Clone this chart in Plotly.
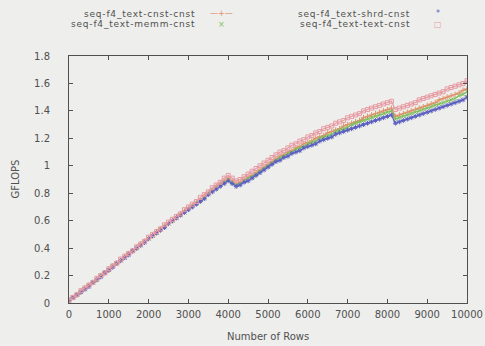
import plotly.graph_objects as go

# Rows processed (every 100 rows, 0..10000)
rows = list(range(0, 10001, 100))

cnst_cnst = [0.02,0.04,0.06,0.08,0.11,0.13,0.15,0.17,0.20,0.22,
             0.24,0.27,0.29,0.31,0.34,0.36,0.38,0.40,0.43,0.45,
             0.47,0.49,0.52,0.54,0.56,0.58,0.60,0.63,0.65,0.67,
             0.69,0.71,0.73,0.75,0.78,0.80,0.82,0.85,0.87,0.89,
             0.91,0.89,0.87,0.88,0.90,0.92,0.93,0.95,0.97,0.99,
             1.01,1.03,1.05,1.07,1.08,1.10,1.11,1.13,1.14,1.16,
             1.17,1.18,1.20,1.21,1.22,1.24,1.25,1.26,1.27,1.29,
             1.30,1.31,1.32,1.33,1.35,1.36,1.37,1.38,1.39,1.40,
             1.41,1.42,1.36,1.37,1.38,1.39,1.40,1.41,1.42,1.43,
             1.44,1.45,1.46,1.48,1.49,1.50,1.51,1.52,1.53,1.55,
             1.56]

memm_cnst = [0.02,0.04,0.06,0.08,0.10,0.13,0.15,0.17,0.20,0.22,
             0.24,0.27,0.29,0.31,0.33,0.36,0.38,0.40,0.42,0.45,
             0.47,0.49,0.51,0.54,0.56,0.58,0.60,0.62,0.64,0.66,
             0.69,0.71,0.73,0.75,0.77,0.80,0.82,0.84,0.86,0.88,
             0.90,0.88,0.86,0.87,0.89,0.91,0.92,0.94,0.96,0.98,
             1.00,1.02,1.04,1.06,1.07,1.09,1.10,1.12,1.13,1.14,
             1.16,1.17,1.18,1.20,1.21,1.22,1.23,1.25,1.26,1.27,
             1.28,1.30,1.31,1.32,1.33,1.34,1.35,1.36,1.37,1.38,
             1.39,1.40,1.34,1.35,1.36,1.37,1.38,1.39,1.40,1.41,
             1.42,1.43,1.44,1.45,1.46,1.47,1.48,1.49,1.51,1.52,
             1.54]

shrd_cnst = [0.02,0.04,0.06,0.08,0.10,0.12,0.15,0.17,0.19,0.22,
             0.24,0.26,0.29,0.31,0.33,0.35,0.38,0.40,0.42,0.44,
             0.47,0.49,0.51,0.53,0.55,0.58,0.60,0.62,0.64,0.66,
             0.68,0.70,0.72,0.74,0.76,0.79,0.81,0.83,0.85,0.87,
             0.89,0.87,0.85,0.86,0.88,0.89,0.91,0.93,0.95,0.97,
             0.99,1.01,1.03,1.04,1.06,1.07,1.09,1.10,1.11,1.13,
             1.14,1.15,1.16,1.18,1.19,1.20,1.21,1.23,1.24,1.25,
             1.26,1.27,1.28,1.29,1.30,1.31,1.32,1.33,1.34,1.35,
             1.36,1.37,1.31,1.32,1.33,1.34,1.35,1.36,1.37,1.38,
             1.39,1.40,1.41,1.42,1.43,1.44,1.45,1.46,1.47,1.48,
             1.50]

text_cnst = [0.02,0.04,0.06,0.09,0.11,0.13,0.15,0.18,0.20,0.22,
             0.25,0.27,0.29,0.32,0.34,0.36,0.38,0.41,0.43,0.45,
             0.48,0.50,0.52,0.54,0.57,0.59,0.61,0.63,0.65,0.68,
             0.70,0.72,0.74,0.77,0.79,0.81,0.84,0.86,0.88,0.91,
             0.93,0.91,0.89,0.90,0.92,0.94,0.96,0.98,1.00,1.02,
             1.04,1.06,1.08,1.10,1.11,1.13,1.15,1.16,1.18,1.19,
             1.21,1.22,1.24,1.25,1.27,1.28,1.29,1.31,1.32,1.33,
             1.35,1.36,1.37,1.38,1.40,1.41,1.42,1.43,1.44,1.45,
             1.46,1.47,1.41,1.42,1.43,1.44,1.45,1.46,1.48,1.49,
             1.50,1.51,1.52,1.53,1.54,1.56,1.57,1.58,1.59,1.60,
             1.62]

x_ticks = list(range(0, 10001, 1000))
x_tick_text = [str(v) for v in x_ticks]
y_ticks = [0, 0.2, 0.4, 0.6, 0.8, 1, 1.2, 1.4, 1.6, 1.8]
y_tick_text = ["0", "0.2", "0.4", "0.6", "0.8", "1", "1.2", "1.4", "1.6", "1.8"]

series = [
    ("seq-f4_text-cnst-cnst", cnst_cnst, "#e0906a", "cross-thin", "lines+markers"),
    ("seq-f4_text-memm-cnst", memm_cnst, "#7cc05a", "x-thin", "lines+markers"),
    ("seq-f4_text-shrd-cnst", shrd_cnst, "#5a5ec0", "asterisk", "lines+markers"),
    ("seq-f4_text-text-cnst", text_cnst, "#e69aa2", "square-open", "lines+markers"),
]

BG = "#eeeeec"
INK = "#505050"
FONT = "DejaVu Sans, Verdana, sans-serif"

W, H = 485, 346
L, R, T, B = 69, 18, 56, 43
PW, PH = W - L - R, H - T - B

fig = go.Figure()
for name, vals, color, sym, mode in series:
    fig.add_trace(go.Scatter(
        x=rows, y=vals, name=name, mode=mode,
        line=dict(color=color, width=1.2),
        marker=dict(symbol=sym, size=4, color=color,
                    line=dict(color=color, width=1)),
        showlegend=False,
    ))


def px(xp, yp):
    """Pixel position on the page -> paper coordinates of the plot area."""
    return (xp - L) / PW, (H - B - yp) / PH


# gnuplot-style key: label text right-aligned, sample to its right
key = [
    (series[0], 197, 14, 221, "—+—"),
    (series[1], 197, 24, 221, "×"),
    (series[2], 412, 14, 438, "*"),
    (series[3], 412, 24, 438, "□"),
]
annotations = []
for (name, vals, color, sym, mode), xr, yc, xs, glyph in key:
    ax, ay = px(xr, yc)
    annotations.append(dict(
        text=f'<span style="letter-spacing:0.8px">{name}</span>',
        x=ax, y=ay, xref="paper", yref="paper",
        xanchor="right", yanchor="middle", showarrow=False,
        font=dict(family=FONT, size=9, color=INK),
    ))
    sx, sy = px(xs, yc)
    annotations.append(dict(
        text=glyph, x=sx, y=sy, xref="paper", yref="paper",
        xanchor="center", yanchor="middle", showarrow=False,
        font=dict(family=FONT, size=8, color=color),
    ))

# axis titles placed like gnuplot's
tx, ty = px(15, (T + H - B) / 2)
annotations.append(dict(
    text="GFLOPS", x=tx, y=ty, xref="paper", yref="paper", textangle=-90,
    xanchor="center", yanchor="middle", showarrow=False,
    font=dict(family=FONT, size=10, color=INK),
))
bx, by = px(L + PW / 2, 336)
annotations.append(dict(
    text="Number of Rows", x=bx, y=by, xref="paper", yref="paper",
    xanchor="center", yanchor="middle", showarrow=False,
    font=dict(family=FONT, size=10, color=INK),
))

fig.update_layout(
    width=W, height=H,
    margin=dict(l=L, r=R, t=T, b=B, autoexpand=False),
    paper_bgcolor=BG, plot_bgcolor=BG,
    font=dict(family=FONT, size=10, color=INK),
    annotations=annotations,
    xaxis=dict(
        range=[0, 10000], tickvals=x_ticks, ticktext=x_tick_text,
        ticks="inside", ticklen=4, tickcolor=INK, showline=True,
        linecolor=INK, linewidth=1, mirror="ticks", showgrid=False,
        zeroline=False, ticklabelstandoff=2, automargin=False,
        tickfont=dict(size=10, color=INK),
    ),
    yaxis=dict(
        range=[0, 1.8], tickvals=y_ticks, ticktext=y_tick_text,
        ticks="inside", ticklen=4, tickcolor=INK, showline=True,
        linecolor=INK, linewidth=1, mirror="ticks", showgrid=False,
        zeroline=False, ticklabelstandoff=16, automargin=False,
        tickfont=dict(size=10, color=INK),
    ),
)

fig.write_html("out.html")
